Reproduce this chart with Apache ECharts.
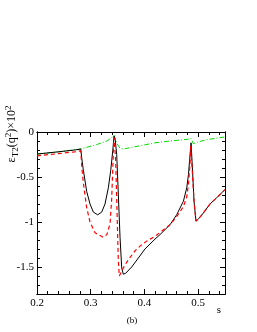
<!DOCTYPE html>
<html><head><meta charset="utf-8">
<script src="https://cdn.jsdelivr.net/npm/echarts@6/dist/echarts.min.js"></script>
<style>html,body{margin:0;padding:0;background:#fff}#c{width:257px;height:332px}</style>
</head><body><div id="c"></div>
<script>
const xMajor = [0.2, 0.3, 0.4, 0.5];
const yMajor = [0, -0.5, -1, -1.5];
const blackX = [0.2,0.24,0.27,0.2815,0.2835,0.2862,0.2925,0.2987,0.3049,0.313,0.3205,0.3266,0.3328,0.3372,0.341,0.3434,0.3455,0.3484,0.3514,0.3546,0.3577,0.3607,0.365,0.3763,0.3887,0.401,0.4197,0.429,0.4477,0.46,0.4725,0.4788,0.482,0.485,0.4868,0.4893,0.4924,0.496,0.5,0.5097,0.522,0.5346,0.55];
const blackY = [-0.245,-0.22,-0.2,-0.19,-0.3,-0.42,-0.66,-0.8,-0.89,-0.92,-0.89,-0.8,-0.62,-0.43,-0.21,-0.045,-0.08,-0.25,-0.69,-1.17,-1.51,-1.58,-1.57,-1.5,-1.4,-1.3,-1.19,-1.14,-1.03,-0.92,-0.77,-0.62,-0.47,-0.25,-0.12,-0.4,-0.77,-0.99,-0.97,-0.9,-0.8,-0.73,-0.64];
const redX = [0.2,0.24,0.27,0.2815,0.2835,0.2862,0.2925,0.2987,0.308,0.3235,0.33,0.336,0.339,0.341,0.3428,0.3434,0.3465,0.349,0.3514,0.3533,0.3607,0.37,0.3825,0.395,0.4073,0.4197,0.4477,0.46,0.4725,0.4788,0.482,0.485,0.486,0.4893,0.4924,0.496,0.5,0.5097,0.522,0.5346,0.55];
const redY = [-0.265,-0.24,-0.22,-0.21,-0.4,-0.56,-0.84,-1.0,-1.12,-1.17,-1.14,-1.02,-0.75,-0.42,-0.12,-0.06,-0.32,-0.88,-1.43,-1.6,-1.51,-1.42,-1.32,-1.25,-1.2,-1.16,-1.03,-0.94,-0.83,-0.72,-0.58,-0.35,-0.155,-0.45,-0.78,-0.99,-0.97,-0.9,-0.8,-0.73,-0.64];
const greenX = [0.2,0.24,0.28,0.311,0.33,0.34,0.3434,0.348,0.3546,0.36,0.39,0.4197,0.4477,0.482,0.4868,0.491,0.497,0.516,0.55];
const greenY = [-0.245,-0.22,-0.19,-0.14,-0.1,-0.06,-0.035,-0.12,-0.18,-0.19,-0.155,-0.12,-0.1,-0.08,-0.07,-0.13,-0.115,-0.085,-0.055];

const zip = (a, b) => a.map((v, i) => [v, b[i]]);
const steps = (a, b, s) => { const r = []; for (let v = a; v <= b + 1e-9; v += s) r.push(+v.toFixed(3)); return r; };
const xMinor = steps(0.2, 0.54, 0.02);
const yMinor = steps(-1.8, 0, 0.1);
const font = 'Liberation Serif';
const lineCol = '#000';

function xAx(pos, vals, len, label) {
  return { type: 'value', min: 0.2, max: 0.55, position: pos, gridIndex: 0,
    axisLine: { show: true, onZero: false, lineStyle: { color: lineCol, width: 1 } },
    axisTick: { show: true, inside: true, length: len, customValues: vals, lineStyle: { color: lineCol } },
    axisLabel: { show: label, customValues: xMajor, color: '#000', fontFamily: font, fontSize: 11, margin: 4 },
    splitLine: { show: false } };
}
function yAx(pos, vals, len, label) {
  return { type: 'value', min: -1.8, max: 0, position: pos, gridIndex: 0,
    axisLine: { show: true, onZero: false, lineStyle: { color: lineCol, width: 1 } },
    axisTick: { show: true, inside: true, length: len, customValues: vals, lineStyle: { color: lineCol } },
    axisLabel: { show: label, customValues: yMajor, color: '#000', fontFamily: font, fontSize: 11, margin: 3 },
    splitLine: { show: false } };
}

const chart = echarts.init(document.getElementById('c'), null, { renderer: 'canvas' });
chart.setOption({
  animation: false,
  grid: { left: 37, right: 32, top: 132, bottom: 38 },
  xAxis: [xAx('bottom', xMajor, 5, true), xAx('bottom', xMinor, 3, false), xAx('top', xMajor, 5, false), xAx('top', xMinor, 3, false)],
  yAxis: [yAx('left', yMajor, 5, true), yAx('left', yMinor, 3, false), yAx('right', yMajor, 5, false), yAx('right', yMinor, 3, false)],
  series: [
    { type: 'line', data: zip(greenX, greenY), showSymbol: false, lineStyle: { color: '#00dd00', width: 1, type: [5, 2, 1, 2] }, z: 2 },
    { type: 'line', data: zip(blackX, blackY), showSymbol: false, lineStyle: { color: '#000', width: 1 }, z: 3 },
    { type: 'line', data: zip(redX, redY), showSymbol: false, lineStyle: { color: '#ff0000', width: 1.2, type: [4, 3] }, z: 4 }
  ],
  graphic: [
    { type: 'text', x: 12, y: 134, rotation: Math.PI / 2,
      style: { text: '{a|ε}{s|T2}{a|(q}{p|2}{a|)×10}{p|2}', fontFamily: font, align: 'center', verticalAlign: 'middle',
        rich: { a: { fontSize: 12, fontFamily: font, fill: '#000' }, s: { fontSize: 9, fontFamily: font, verticalAlign: 'bottom', padding: [7, 0, 0, 0], fill: '#000' }, p: { fontSize: 9, fontFamily: font, padding: [0, 0, 7, 0], fill: '#000' } } } },
    { type: 'text', x: 219, y: 310, style: { text: 's', fontFamily: font, fontSize: 11, fill: '#000', align: 'center', verticalAlign: 'middle' } },
    { type: 'text', x: 132, y: 321, style: { text: '(b)', fontFamily: font, fontSize: 9, fill: '#000', align: 'center', verticalAlign: 'middle' } }
  ]
});
</script></body></html>
